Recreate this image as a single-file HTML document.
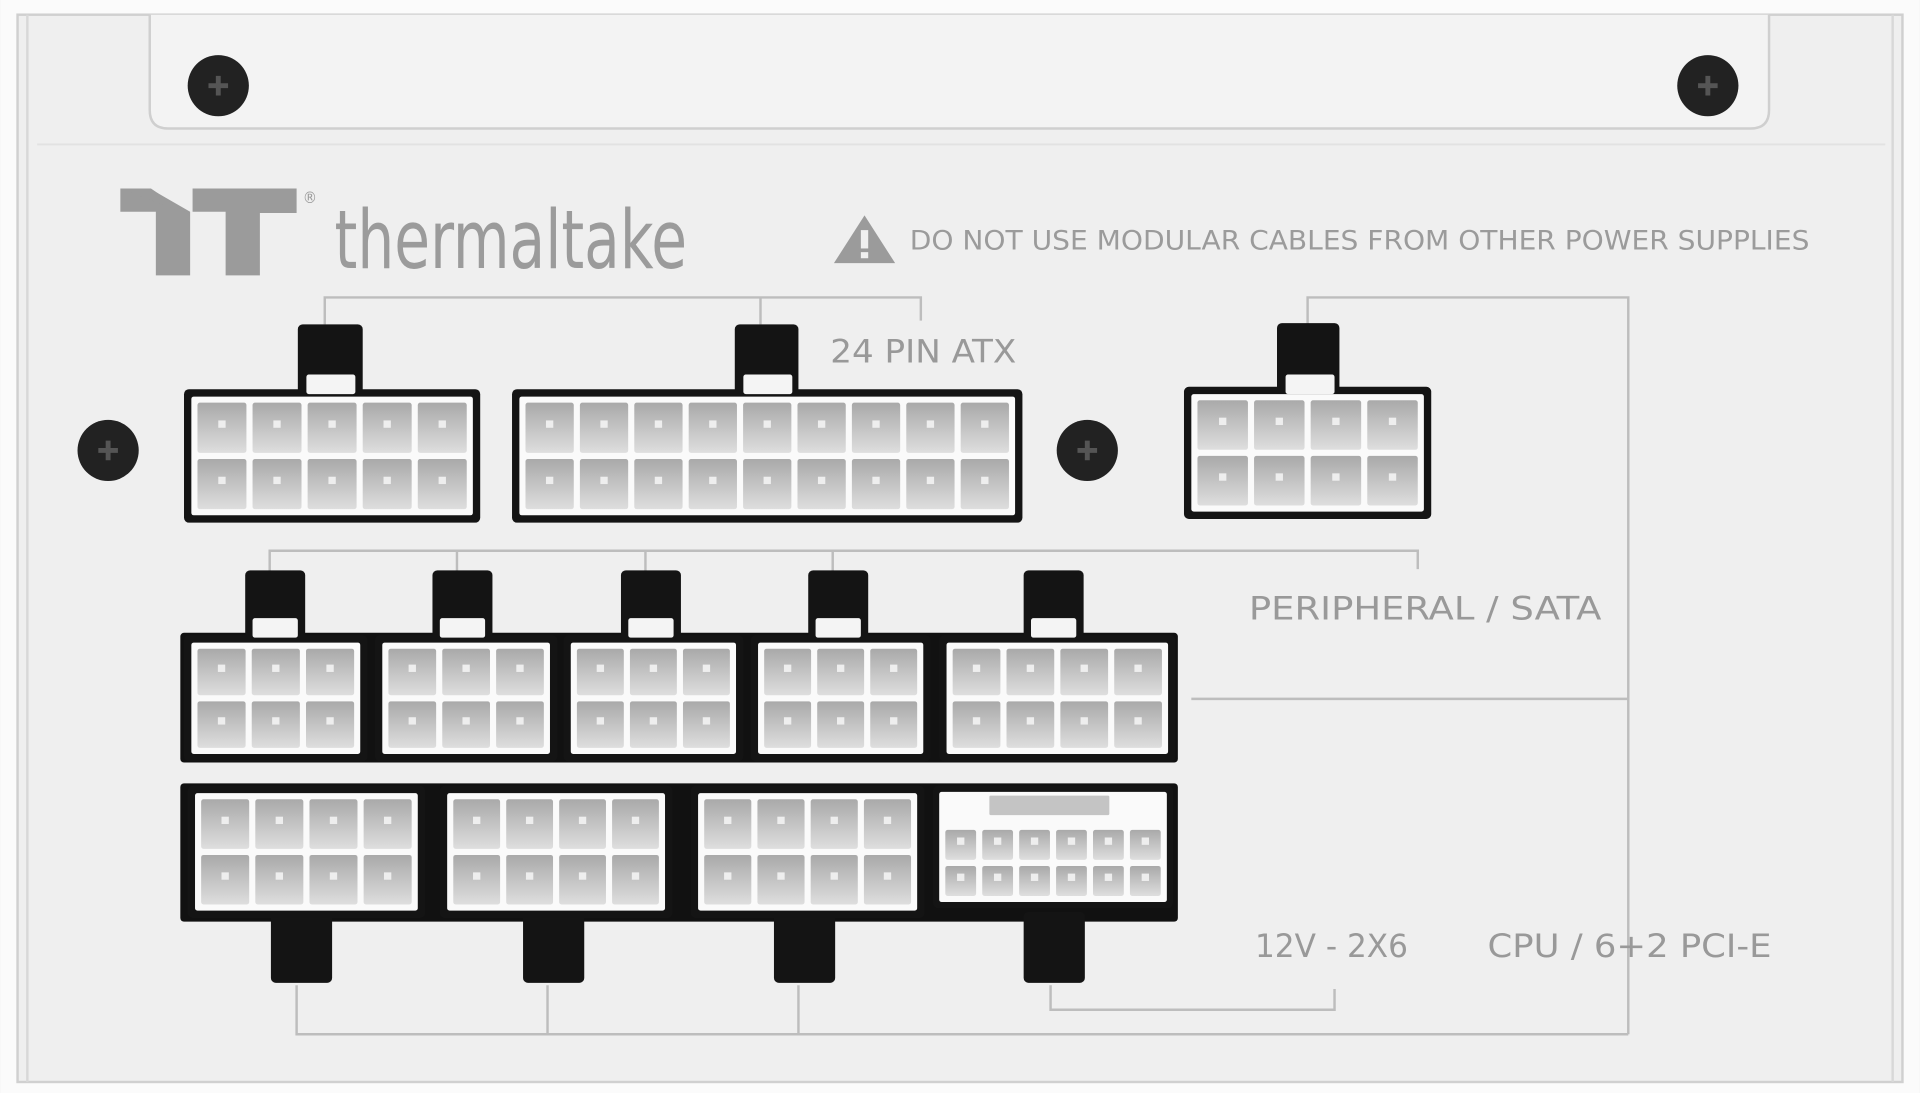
<!DOCTYPE html>
<html><head><meta charset="utf-8"><style>
html,body{margin:0;padding:0;background:#f2f2f2;}
svg{display:block}
text{font-family:"DejaVu Sans Condensed","Liberation Sans",sans-serif;}
</style></head><body>
<svg id="s" width="1920" height="1093" viewBox="0 0 1568 893" xmlns="http://www.w3.org/2000/svg">
<defs>
<linearGradient id="pg" x1="0" y1="0" x2="0" y2="1"><stop offset="0" stop-color="#a9a9a9"/><stop offset="1" stop-color="#dedede"/></linearGradient>
</defs>
<rect x="0" y="0" width="1568" height="893" fill="#fbfbfb"/>
<rect x="14" y="12" width="1540" height="872" fill="#efefef" stroke="#d0d0d0" stroke-width="2"/>
<line x1="22" y1="12" x2="22" y2="884" stroke="#d8d8d8" stroke-width="2"/>
<line x1="1546" y1="12" x2="1546" y2="884" stroke="#d8d8d8" stroke-width="2"/>
<path d="M122 12 V90 Q122 105 137 105 H1430 Q1445 105 1445 90 V12" fill="#f3f3f3" stroke="#cfcfcf" stroke-width="2"/>
<line x1="30" y1="118" x2="1540" y2="118" stroke="#e2e2e2" stroke-width="1.5"/>
<g fill="#222">
<circle cx="178" cy="70" r="25"/><circle cx="1395" cy="70" r="25"/><circle cx="88" cy="368" r="25"/><circle cx="888" cy="368" r="25"/>
</g>
<g stroke="#555" stroke-width="4">
<path d="M170 70h16M178 62v16"/><path d="M1387 70h16M1395 62v16"/><path d="M80 368h16M88 360v16"/><path d="M880 368h16M888 360v16"/>
</g>
<!-- logo -->
<g fill="#9b9b9b">
<path d="M98 154 H122 L155 173 V225 H127 V173 H98 Z"/>
<path d="M98 154 H123 L155 176 Z" fill="#9b9b9b"/>
<path d="M157 154 H242 V174 H212 V225 H184 V173 H157 Z"/>
</g>
<text x="247" y="166" font-size="13" fill="#9b9b9b">®</text>
<text x="273" y="219" font-size="66" fill="#9b9b9b" font-family="Liberation Sans Narrow, Liberation Sans, sans-serif" textLength="288" lengthAdjust="spacingAndGlyphs">thermaltake</text>
<path d="M706 176 L731 215 H681 Z" fill="#9b9b9b"/>
<rect x="703" y="188" width="6" height="15" fill="#f0f0f0"/><rect x="703" y="206" width="6" height="5" fill="#f0f0f0"/>
<text x="743" y="204" font-size="22" fill="#9b9b9b" textLength="735" lengthAdjust="spacingAndGlyphs">DO NOT USE MODULAR CABLES FROM OTHER POWER SUPPLIES</text>
<!-- lines -->
<g stroke="#bdbdbd" stroke-width="2" fill="none">
<path d="M265 265 V243 H752 V262 M621 243 V265"/>
<path d="M1068 265 V243 H1330 V845"/>
<path d="M973 571 H1330"/>
<path d="M220 468 V450 H1158 V465 M373 450 V468 M527 450 V468 M680 450 V468"/>
<path d="M858 805 V825 H1090 V808"/>
<path d="M242 805 V845 H1330 M447 805 V845 M652 805 V845"/>
</g>
<g fill="#999" font-size="26">
<text x="678" y="296" textLength="152" lengthAdjust="spacingAndGlyphs">24 PIN ATX</text>
<text x="1020" y="506" textLength="288" lengthAdjust="spacingAndGlyphs">PERIPHERAL / SATA</text>
<text x="1025" y="782" textLength="125" lengthAdjust="spacingAndGlyphs">12V - 2X6</text>
<text x="1215" y="782" textLength="232" lengthAdjust="spacingAndGlyphs">CPU / 6+2 PCI-E</text>
</g>
<rect x="147" y="517" width="815" height="106" fill="#111" rx="3"/>
<rect x="147" y="640" width="815" height="113" fill="#111" rx="3"/>
<g id="c"></g>
</svg>
<script>
var g=document.getElementById('c'),N='http://www.w3.org/2000/svg';
function r(x,y,w,h,f,rx){var e=document.createElementNS(N,'rect');e.setAttribute('x',x);e.setAttribute('y',y);e.setAttribute('width',w);e.setAttribute('height',h);e.setAttribute('fill',f);if(rx)e.setAttribute('rx',rx);g.appendChild(e);}
function tab(x,y,w,h){r(x,y,w,h,'#141414',4);}
function box(x,y,w,h,c,rw,b,top){r(x,y,w,h,'#141414',4);r(x+b,y+b,w-2*b,h-2*b,'#fafafa',2);
 var ix=x+b+5,iy=y+b+5+(top||0),iw=w-2*b-10,ih=h-2*b-10-(top||0),gp=5,cw=(iw-gp*(c-1))/c,ch=(ih-gp*(rw-1))/rw;
 for(var i=0;i<c;i++)for(var j=0;j<rw;j++){var px=ix+i*(cw+gp),py=iy+j*(ch+gp);r(px,py,cw,ch,'url(#pg)',2);r(px+cw/2-3,py+ch/2-6,6,6,'#eee');}}
tab(243,265,53,60);tab(600,265,52,60);tab(1043,264,51,58);
box(150,318,242,109,5,2,6);box(418,318,417,109,9,2,6);box(967,316,202,108,4,2,6);
[200,353,507,660,836].forEach(function(x){tab(x,466,49,56);});
box(150,519,150,103,3,2,6);box(306,519,149,103,3,2,6);box(460,519,147,103,3,2,6);box(613,519,147,103,3,2,6);box(767,519,193,103,4,2,6);
[221,427,632,836].forEach(function(x){tab(x,745,50,58);});
box(153,642,194,108,4,2,6);box(359,642,190,108,4,2,6);box(564,642,191,108,4,2,6);box(762,642,196,100,6,2,5,26);
r(808,650,98,16,'#c4c4c4',1);
[250,607,1050].forEach(function(x){r(x,306,40,16,'#f4f4f4',2)});
[206,359,513,666,842].forEach(function(x){r(x,505,37,16,'#f4f4f4',2)});
</script>
</body></html>
